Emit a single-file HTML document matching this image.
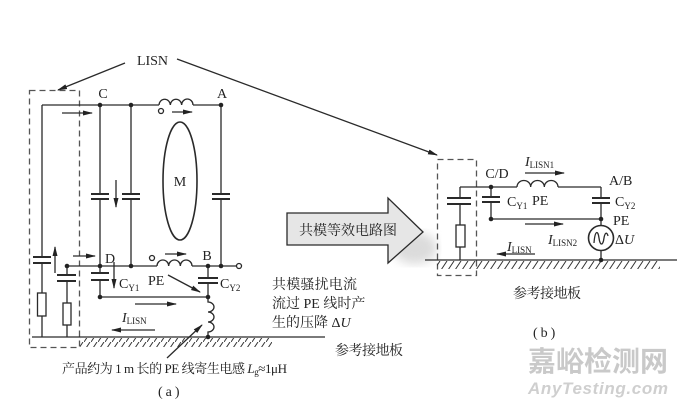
<!DOCTYPE html>
<html><head><meta charset="utf-8"><style>
html,body{margin:0;padding:0;background:#fff;}
svg{display:block;}
text{font-family:"Liberation Serif","Noto Serif CJK SC",serif;fill:#222;}
</style></head><body>
<svg width="680" height="404" viewBox="0 0 680 404" xmlns="http://www.w3.org/2000/svg">
<defs>
<marker id="ah" markerWidth="10" markerHeight="6" refX="9" refY="3" orient="auto" markerUnits="userSpaceOnUse">
<path d="M0,0.5 L10,3 L0,5.5 Z" fill="#222"/></marker>
<pattern id="hatch" patternUnits="userSpaceOnUse" width="7" height="9">
<line x1="0" y1="9" x2="6" y2="0" stroke="#333" stroke-width="1"/></pattern>
<filter id="blur"><feGaussianBlur stdDeviation="5"/></filter>
</defs>
<g stroke="#2a2a2a" stroke-width="1.3" fill="none">
<!-- ===== (a) ===== -->
<rect x="29.5" y="90.5" width="50" height="257" stroke="#555" stroke-dasharray="6,4"/>
<line x1="125" y1="63" x2="58" y2="90" marker-end="url(#ah)"/>
<line x1="177" y1="59" x2="437" y2="155" marker-end="url(#ah)"/>
<path d="M42,105 H159 M193,105 H221"/>
<path d="M159,105 a5.67,6 0 0 1 11.33,0 a5.67,6 0 0 1 11.33,0 a5.67,6 0 0 1 11.34,0"/>
<circle cx="161" cy="111" r="2.5"/>
<line x1="172" y1="112" x2="192" y2="112" marker-end="url(#ah)"/>
<line x1="62" y1="113" x2="92" y2="113" marker-end="url(#ah)"/>
<ellipse cx="180" cy="181" rx="17" ry="59" stroke-width="1.6"/>
<path d="M100,105 V194 M100,199 V266"/>
<path d="M91,194 H109 M91,199 H109" stroke-width="2"/>
<path d="M131,105 V194 M131,199 V266"/>
<path d="M122,194 H140 M122,199 H140" stroke-width="2"/>
<line x1="116" y1="180" x2="116" y2="207" marker-end="url(#ah)"/>
<path d="M221,105 V194 M221,199 V266"/>
<path d="M212,194 H230 M212,199 H230" stroke-width="2"/>
<path d="M42,105 V257 M42,263 V293 M42,316 V337"/>
<path d="M33,257 H51 M33,263 H51" stroke-width="2"/>
<rect x="37.5" y="293" width="8.5" height="23"/>
<line x1="55" y1="273" x2="55" y2="247" marker-end="url(#ah)"/>
<path d="M67,266 V275 M67,281 V303 M67,325 V337"/>
<path d="M57,275 H76 M57,281 H76" stroke-width="2"/>
<rect x="63" y="303" width="8" height="22"/>
<line x1="73" y1="256" x2="95" y2="256" marker-end="url(#ah)"/>
<path d="M67,266 H157 M192,266 H236.5"/>
<path d="M157,266 a5.83,6 0 0 1 11.67,0 a5.83,6 0 0 1 11.67,0 a5.83,6 0 0 1 11.66,0"/>
<circle cx="152" cy="258" r="2.5"/>
<circle cx="239" cy="266" r="2.5"/>
<line x1="165" y1="254" x2="186" y2="254" marker-end="url(#ah)"/>
<path d="M100,266 V273 M100,280 V297"/>
<path d="M91,273 H109 M91,280 H109" stroke-width="2"/>
<line x1="114" y1="262" x2="114" y2="288" marker-end="url(#ah)"/>
<line x1="100" y1="297" x2="208" y2="297"/>
<path d="M208,266 V278 M208,283 V297"/>
<path d="M198,278 H218 M198,283 H218" stroke-width="2"/>
<line x1="168" y1="275" x2="200" y2="292" marker-end="url(#ah)"/>
<path d="M208,297 V302 a6,5 0 0 1 0,10 a6,5 0 0 1 0,10 a6,5 0 0 1 0,10 V337"/>
<line x1="135" y1="304" x2="176" y2="304" marker-end="url(#ah)"/>
<line x1="155" y1="330" x2="112" y2="330" marker-end="url(#ah)"/>
<line x1="32" y1="337" x2="325" y2="337"/>
<line x1="167" y1="358" x2="202" y2="325" marker-end="url(#ah)"/>
</g>
<rect x="80" y="338" width="192" height="9" fill="url(#hatch)"/>
<g fill="#222">
<circle cx="100" cy="105" r="2.3"/><circle cx="131" cy="105" r="2.3"/><circle cx="221" cy="105" r="2.3"/>
<circle cx="67" cy="266" r="2.3"/><circle cx="100" cy="266" r="2.3"/><circle cx="131" cy="266" r="2.3"/>
<circle cx="208" cy="266" r="2.3"/><circle cx="221" cy="266" r="2.3"/>
<circle cx="100" cy="297" r="2.3"/><circle cx="208" cy="297" r="2.3"/><circle cx="208" cy="337" r="2.3"/>
</g>
<g font-size="14">
<text x="137" y="65" textLength="31">LISN</text>
<text x="103" y="98" text-anchor="middle">C</text>
<text x="222" y="98" text-anchor="middle">A</text>
<text x="180" y="186" text-anchor="middle">M</text>
<text x="110" y="263" text-anchor="middle">D</text>
<text x="207" y="260" text-anchor="middle">B</text>
<text x="119" y="288">C<tspan font-size="9" dy="3">Y1</tspan></text>
<text x="148" y="285">PE</text>
<text x="220" y="288">C<tspan font-size="9" dy="3">Y2</tspan></text>
<text x="122" y="322" font-style="italic">I<tspan font-size="9" dy="2" font-style="normal">LISN</tspan></text>
</g>
<text x="62" y="373" font-size="13" textLength="225">产品约为 1 m 长的 PE 线寄生电感 <tspan font-style="italic">L</tspan><tspan font-size="9" dy="2">g</tspan><tspan dy="-2">≈1μH</tspan></text>
<text x="158" y="396" font-size="14" letter-spacing="3">(a)</text>
<!-- ===== middle ===== -->
<ellipse cx="415" cy="248" rx="22" ry="16" fill="#ccc" filter="url(#blur)" opacity="0.7"/>
<polygon points="287,213 388,213 388,198 423,232 388,263 388,245 287,245" fill="#e6e6e6" stroke="#2a2a2a" stroke-width="1.3"/>
<text x="299" y="235" font-size="14" textLength="98">共模等效电路图</text>
<g font-size="14">
<text x="272" y="289" textLength="85">共模骚扰电流</text>
<text x="272" y="308">流过 PE 线时产</text>
<text x="272" y="327">生的压降 Δ<tspan font-style="italic">U</tspan></text>
<text x="335" y="355" textLength="68">参考接地板</text>
</g>
<!-- ===== (b) ===== -->
<g stroke="#2a2a2a" stroke-width="1.3" fill="none">
<rect x="437.5" y="159.5" width="39" height="116" stroke="#555" stroke-dasharray="6,4"/>
<path d="M460,187 H517 M558,187 H601"/>
<path d="M517,187 a6.83,6.5 0 0 1 13.67,0 a6.83,6.5 0 0 1 13.67,0 a6.83,6.5 0 0 1 13.66,0"/>
<path d="M460,187 V198 M460,204 V225 M460,247 V260"/>
<path d="M447,198 H471 M447,204 H471" stroke-width="2"/>
<rect x="456" y="225" width="9" height="22"/>
<path d="M491,187 V197 M491,202 V219"/>
<path d="M482,197 H500 M482,202 H500" stroke-width="2"/>
<path d="M601,187 V198 M601,203 V225.5 M601,250.5 V260"/>
<path d="M592,198 H610 M592,203 H610" stroke-width="2"/>
<line x1="491" y1="219" x2="601" y2="219"/>
<line x1="525" y1="173" x2="564" y2="173" marker-end="url(#ah)"/>
<line x1="525" y1="224" x2="563" y2="224" marker-end="url(#ah)"/>
<line x1="535" y1="254" x2="497" y2="254" marker-end="url(#ah)"/>
<circle cx="601" cy="238" r="12.5" stroke-width="1.6"/>
<path d="M594,243 C595,230 598,230 599,238 C600,246 603,246 604,238 C605,232 607,232 608,236" stroke-width="1.3"/>
<line x1="425" y1="260" x2="677" y2="260"/>
</g>
<rect x="437" y="261" width="223" height="8" fill="url(#hatch)"/>
<g fill="#222"><circle cx="491" cy="187" r="2.3"/><circle cx="491" cy="219" r="2.3"/><circle cx="601" cy="219" r="2.3"/><circle cx="601" cy="260" r="2.3"/></g>
<g font-size="14">
<text x="497" y="178" text-anchor="middle">C/D</text>
<text x="525" y="166" font-style="italic">I<tspan font-size="9" dy="2" font-style="normal">LISN1</tspan></text>
<text x="609" y="185">A/B</text>
<text x="507" y="206">C<tspan font-size="9" dy="3">Y1</tspan></text>
<text x="532" y="205">PE</text>
<text x="615" y="206">C<tspan font-size="9" dy="3">Y2</tspan></text>
<text x="613" y="225">PE</text>
<text x="548" y="244" font-style="italic">I<tspan font-size="9" dy="2" font-style="normal">LISN2</tspan></text>
<text x="615" y="244">Δ<tspan font-style="italic">U</tspan></text>
<text x="507" y="251" font-style="italic">I<tspan font-size="9" dy="2" font-style="normal">LISN</tspan></text>
<text x="513" y="298" textLength="68">参考接地板</text>
<text x="533" y="337" font-size="14" letter-spacing="3">(b)</text>
</g>
<text x="528" y="371" font-size="28" textLength="140" style="font-family:'Noto Sans CJK SC',sans-serif;font-weight:bold;fill:#c9c9c9">嘉峪检测网</text>
<text x="528" y="394" font-size="17" textLength="140" style="font-family:'Liberation Sans',sans-serif;font-style:italic;font-weight:bold;fill:#cfcfcf">AnyTesting.com</text>
</svg>
</body></html>
